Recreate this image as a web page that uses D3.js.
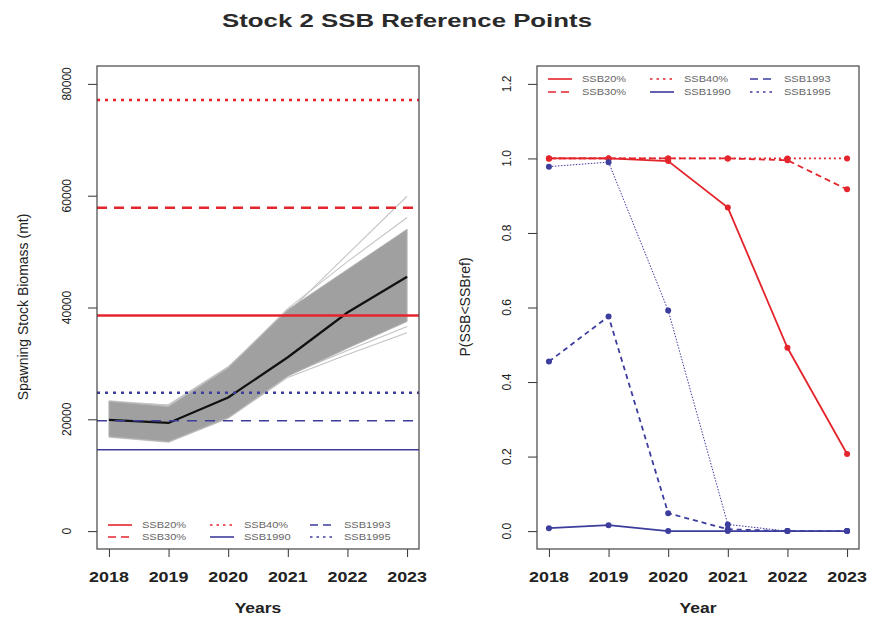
<!DOCTYPE html>
<html>
<head>
<meta charset="utf-8">
<script src="https://cdn.jsdelivr.net/npm/d3@7"></script>
<style>
  body { margin: 0; background: #fff; }
  svg { font-family: "Liberation Sans", Arial, sans-serif; }
</style>
</head>
<body>
<svg id="chart" width="870" height="620"></svg>
<script>
// Stock 2 SSB reference points - two panels (biomass projection, probability below ref)

const years = [2018, 2019, 2020, 2021, 2022, 2023];

// left panel: projected SSB (mt)
const ssbMedian = [19900, 19350, 23900, 31100, 39100, 45500];
const bandUpper = [23200, 22300, 29200, 39600, 46800, 54000];
const bandLower = [16900, 16000, 20300, 27700, 32700, 37500];
const lightTrajectories = [
  [23000, 22600, 29400, 39100, 49500, 59900],
  [23300, 22500, 29300, 39800, 48200, 56100],
  [16800, 15900, 20200, 27500, 31600, 35500],
  [17000, 16100, 20400, 27900, 32300, 36600]
];

// reference points (mt)
const refNames = ['SSB20%', 'SSB30%', 'SSB40%', 'SSB1990', 'SSB1993', 'SSB1995'];
const refValues = [38560, 57840, 77120, 14550, 19750, 24750];

// right panel: P(SSB < SSBref)
const pSSB20 = [1.0, 1.0, 0.993, 0.868, 0.492, 0.207];
const pSSB30 = [1.0, 1.0, 1.0, 1.0, 0.995, 0.917];
const pSSB40 = [1.0, 1.0, 1.0, 1.0, 1.0, 1.0];
const p1990 = [0.008, 0.016, 0.0, 0.0, 0.0, 0.0];
const p1993 = [0.455, 0.576, 0.048, 0.005, 0.0, 0.0];
const p1995 = [0.978, 0.990, 0.592, 0.018, 0.0, 0.0];

const leftTicks = [0, 20000, 40000, 60000, 80000];
const rightTicks = [0, 0.2, 0.4, 0.6, 0.8, 1.0, 1.2];

const RED = '#e4252c';
const BLUE = '#3d3d9e';

// line styles per reference point, same order as refNames
const styles = [
  { color: RED, dash: null, width: 2.6 },
  { color: RED, dash: '10,7', width: 2.6 },
  { color: RED, dash: '3,5', width: 2.6 },
  { color: BLUE, dash: null, width: 1.6 },
  { color: BLUE, dash: '10,8', width: 1.6 },
  { color: BLUE, dash: '3,5', width: 2.4 }
];
const probSeries = [pSSB20, pSSB30, pSSB40, p1990, p1993, p1995];
const probStyles = [
  { color: RED, dash: null, width: 1.8 },
  { color: RED, dash: '6,4', width: 1.8 },
  { color: RED, dash: '2,3', width: 1.8 },
  { color: BLUE, dash: null, width: 1.8 },
  { color: BLUE, dash: '5,4', width: 1.8 },
  { color: BLUE, dash: '1.5,1.5', width: 1 }
];

const svg = d3.select('#chart');
const SX = 1.28; // horizontal stretch of the original picture's text

function hText(g, x, y, str, size, opts = {}) {
  return g.append('text')
    .attr('transform', `translate(${x},${y}) scale(${opts.sx || SX},1)`)
    .attr('text-anchor', opts.anchor || 'middle')
    .attr('font-size', size)
    .attr('font-weight', opts.weight || 'normal')
    .attr('fill', opts.fill || '#222')
    .text(str);
}

function vText(g, x, y, str, size, fill) {
  return g.append('text')
    .attr('transform', `translate(${x},${y}) rotate(-90)`)
    .attr('text-anchor', 'middle')
    .attr('font-size', size)
    .attr('fill', fill || '#222')
    .text(str);
}

// title
svg.append('text')
  .attr('x', 222).attr('y', 27)
  .attr('font-size', 18)
  .attr('font-weight', 'bold')
  .attr('fill', '#2a2a2a')
  .attr('textLength', 370)
  .attr('lengthAdjust', 'spacingAndGlyphs')
  .text('Stock 2 SSB Reference Points');

function makePanel(left, yDomain, ticks, tickFmt, yTitle, xTitle, titleX) {
  const top = 66, bottom = 549, right = left + 322;
  const x = d3.scaleLinear().domain([2018 - 0.2, 2023 + 0.2]).range([left, right]);
  const y = d3.scaleLinear().domain(yDomain).range([bottom, top]);
  const g = svg.append('g');

  // x axis
  const xa = g.append('g').attr('transform', `translate(0,${bottom})`)
    .call(d3.axisBottom(x).tickValues(years).tickFormat(() => '').tickSizeInner(8).tickSizeOuter(0));
  xa.select('.domain').remove();
  xa.selectAll('line').attr('stroke', '#333');
  years.forEach(yr => hText(g, x(yr), 582, String(yr), 14, { weight: 'bold' }));
  hText(g, (left + right) / 2, 613, xTitle, 14, { weight: 'bold', sx: 1.25 });

  // y axis
  const ya = g.append('g').attr('transform', `translate(${left},0)`)
    .call(d3.axisLeft(y).tickValues(ticks).tickFormat(() => '').tickSizeInner(9).tickSizeOuter(0));
  ya.select('.domain').remove();
  ya.selectAll('line').attr('stroke', '#333');
  ticks.forEach(t => vText(g, left - 26, y(t), tickFmt(t), 12));
  vText(g, titleX, 307, yTitle, 14);

  return { g, x, y, left, right, top, bottom };
}

function drawLegend(p, rowY) {
  const cols = [[0, 1], [2, 3], [4, 5]];
  const offs = [11, 113, 213];
  cols.forEach((pair, c) => {
    pair.forEach((idx, r) => {
      const yy = rowY[r];
      const st = styles[idx];
      p.g.append('line')
        .attr('x1', p.left + offs[c]).attr('x2', p.left + offs[c] + 24)
        .attr('y1', yy).attr('y2', yy)
        .attr('stroke', st.color)
        .attr('stroke-width', 1.6)
        .attr('stroke-dasharray', st.dash ? (st.dash === '3,5' ? '2.5,4' : '8,5') : null);
      hText(p.g, p.left + offs[c] + 34, yy + 3, refNames[idx], 8.5, { anchor: 'start', fill: '#666', sx: 1.3 });
    });
  });
}

// ---------- left panel ----------
const L = makePanel(97, [-3200, 83200], leftTicks, d => String(d),
  'Spawning Stock Biomass (mt)', 'Years', 28);

const line = d3.line().x((d, i) => L.x(years[i])).y(d => L.y(d));

lightTrajectories.forEach(tr => {
  L.g.append('path').attr('d', line(tr))
    .attr('fill', 'none').attr('stroke', '#c4c4c4').attr('stroke-width', 1.1);
});

const band = d3.area()
  .x((d, i) => L.x(years[i]))
  .y0((d, i) => L.y(bandLower[i]))
  .y1(d => L.y(d));
L.g.append('path').attr('d', band(bandUpper))
  .attr('fill', '#a0a0a0').attr('stroke', '#b4b4b4').attr('stroke-width', 1);

L.g.append('path').attr('d', line(ssbMedian))
  .attr('fill', 'none').attr('stroke', '#111').attr('stroke-width', 2.2);

refValues.forEach((v, i) => {
  const st = styles[i];
  L.g.append('line')
    .attr('x1', L.left).attr('x2', L.right)
    .attr('y1', L.y(v)).attr('y2', L.y(v))
    .attr('stroke', st.color)
    .attr('stroke-width', st.width)
    .attr('stroke-dasharray', st.dash);
});

L.g.append('rect')
  .attr('x', L.left).attr('y', L.top)
  .attr('width', L.right - L.left).attr('height', L.bottom - L.top)
  .attr('fill', 'none').attr('stroke', '#444').attr('stroke-width', 1.2);

drawLegend(L, [525, 537]);

// ---------- right panel ----------
const R = makePanel(537, [-0.048, 1.248], rightTicks, d => d.toFixed(1),
  'P(SSB<SSBref)', 'Year', 470);

const pline = d3.line().x((d, i) => R.x(years[i])).y(d => R.y(d));

probSeries.forEach((s, k) => {
  const st = probStyles[k];
  R.g.append('path').attr('d', pline(s))
    .attr('fill', 'none')
    .attr('stroke', st.color)
    .attr('stroke-width', st.width)
    .attr('stroke-dasharray', st.dash);
  R.g.selectAll(null).data(s).enter().append('circle')
    .attr('cx', (d, i) => R.x(years[i]))
    .attr('cy', d => R.y(d))
    .attr('r', 3)
    .attr('fill', st.color);
});

R.g.append('rect')
  .attr('x', R.left).attr('y', R.top)
  .attr('width', R.right - R.left).attr('height', R.bottom - R.top)
  .attr('fill', 'none').attr('stroke', '#444').attr('stroke-width', 1.2);

drawLegend(R, [79, 92]);
</script>
</body>
</html>
